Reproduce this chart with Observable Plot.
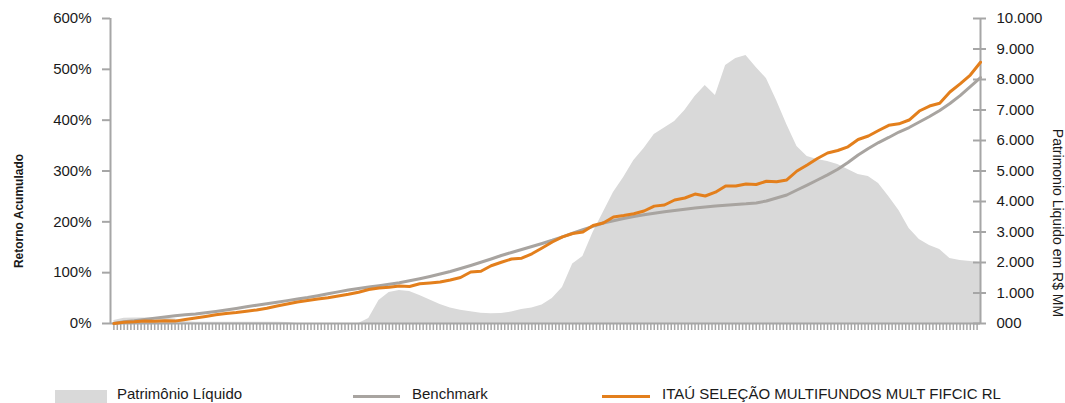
<!DOCTYPE html>
<html>
<head>
<meta charset="utf-8">
<script src="https://cdn.jsdelivr.net/npm/d3@7"></script>
<script src="https://cdn.jsdelivr.net/npm/@observablehq/plot@0.6"></script>
<style>
  body { margin: 0; background: #fff; font-family: "Liberation Sans", Arial, sans-serif; }
  #wrap { position: relative; width: 1065px; height: 403px; overflow: hidden; }
  #chart { position: absolute; left: 0; top: 0; }
  .lg { position: absolute; font-size: 15px; line-height: 15px; color: #1a1a1a; white-space: nowrap; }
  .sw { position: absolute; }
</style>
</head>
<body>
<div id="wrap">
  <div id="chart"></div>
  <div id="legend"></div>
</div>
<script>
// ---- data ----
const N_MONTHS = 256;          // monthly categories on the x axis
const SAMPLE_STEP = 3;         // values below are read every 3 months

const benchmark = [
  0, 3.5, 5.3, 7.9, 10.6, 13.0, 15.1, 17.1, 18.7, 21.0,
  23.6, 26.6, 29.5, 32.8, 36.0, 38.9, 41.9, 45.0, 48.0, 51.1,
  54.7, 58.4, 62.2, 65.9, 68.8, 71.6, 74.4, 77.3, 80.3, 84.0,
  88.1, 92.6, 97.4, 102.3, 108.2, 114.1, 120.4, 126.9, 133.8, 139.7,
  145.6, 151.5, 157.4, 163.7, 170.5, 177.6, 184.5, 191.2, 197.7, 202.2,
  206.5, 210.5, 213.8, 217.0, 219.7, 222.3, 224.6, 227.0, 229.2, 231.1,
  232.7, 234.1, 235.4, 237.2, 241.0, 246.9, 252.8, 262.6, 272.4, 282.3,
  292.5, 303.5, 316.7, 331.4, 344.2, 356.0, 366.0, 376.7, 385.5, 396.4,
  407.2, 419.0, 432.8, 448.4, 466.1, 483.9
];

const fund = [
  0, 2.4, 3.3, 4.9, 4.3, 5.5, 4.7, 7.9, 10.8, 13.8,
  17.1, 19.7, 21.6, 24.2, 26.6, 29.9, 34.4, 38.4, 42.3, 45.2,
  48.2, 50.6, 54.1, 57.4, 61.4, 66.9, 69.8, 71.2, 73.8, 72.8,
  78.1, 79.7, 81.6, 85.6, 90.5, 101.3, 102.7, 113.7, 120.4, 126.9,
  128.4, 137.1, 148.5, 160.3, 170.5, 177.0, 180.0, 192.8, 197.7, 209.5,
  212.4, 215.8, 221.3, 230.9, 233.1, 242.9, 246.9, 254.7, 250.8, 258.3,
  270.5, 270.5, 274.4, 273.4, 279.9, 278.7, 282.3, 300.0, 311.8, 324.6,
  335.4, 340.3, 347.6, 361.9, 368.8, 379.6, 389.9, 392.8, 400.3, 418.0,
  427.8, 433.3, 455.4, 471.5, 488.8, 514.0
];

const patrimonio = [
  100, 170, 180, 180, 180, 175, 150, 60, 40, 40,
  40, 40, 40, 40, 40, 40, 40, 30, 0, 0,
  0, 0, 0, 0, 0, 165, 754, 1016, 1082, 1049,
  918, 770, 623, 508, 436, 384, 338, 318, 328, 377,
  459, 508, 607, 820, 1180, 1951, 2197, 2984, 3639, 4295,
  4787, 5344, 5738, 6197, 6410, 6623, 6984, 7443, 7803, 7475,
  8459, 8689, 8787, 8393, 8033, 7311, 6525, 5803, 5475, 5377,
  5311, 5213, 5049, 4885, 4820, 4590, 4164, 3705, 3115, 2754,
  2557, 2426, 2131, 2066, 2033, 2000
];

const leftTicks = [0, 100, 200, 300, 400, 500, 600];
const rightTicks = [0, 1000, 2000, 3000, 4000, 5000, 6000, 7000, 8000, 9000, 10000];
const rightTickLabels = ["000", "1.000", "2.000", "3.000", "4.000", "5.000", "6.000", "7.000", "8.000", "9.000", "10.000"];

const leftTitle = "Retorno Acumulado";
const rightTitle = "Patrimonio Liquido em R$ MM";
const seriesNames = ["Patrimônio Líquido", "Benchmark", "ITAÚ SELEÇÃO MULTIFUNDOS MULT FIFCIC RL"];

// ---- styles ----
const C_AREA = "#d9d9d9";
const C_BENCH = "#a8a4a0";
const C_FUND = "#e37f1c";
const C_AXIS = "#a6a6a6";
const C_TEXT = "#1a1a1a";

// ---- build table ----
const Y_MAX = 600, PL_MAX = 10000;
const toY = v => v * Y_MAX / PL_MAX;   // map right-axis values onto left scale
const months = d3.range(0, N_MONTHS, SAMPLE_STEP);
const rows = months.map((m, i) => ({m, bench: benchmark[i], fund: fund[i], pl: toY(patrimonio[i])}));
const xDomain = [-1, N_MONTHS - 1];
const rightLabelByY = new Map(rightTicks.map((v, i) => [toY(v), rightTickLabels[i]]));

const chart = Plot.plot({
  width: 1065,
  height: 385,
  marginLeft: 110,
  marginRight: 85,
  marginTop: 18,
  marginBottom: 62,
  x: {domain: xDomain},
  y: {domain: [0, Y_MAX]},
  style: {fontFamily: "'Liberation Sans', Arial, sans-serif", fontSize: "15px", color: C_TEXT, background: "#fff", overflow: "visible"},
  marks: [
    Plot.areaY(rows, {x: "m", y: "pl", fill: C_AREA}),
    Plot.axisX(d3.range(0, N_MONTHS - 1), {anchor: "bottom", tickSize: 7, stroke: C_AXIS, strokeWidth: 1.5, fill: "none", label: null}),
    Plot.axisY(leftTicks, {anchor: "left", tickSize: 8, tickPadding: 11, stroke: C_AXIS, strokeWidth: 2, fill: C_TEXT,
      tickFormat: d => `${d}%`, label: null}),
    Plot.axisY(rightTicks.map(toY), {anchor: "right", tickSize: 13, dx: -8, tickPadding: 11, stroke: C_AXIS, strokeWidth: 2, fill: C_TEXT,
      tickFormat: d => rightLabelByY.get(d), textAnchor: "start", label: null}),
    Plot.ruleX(xDomain, {stroke: C_AXIS, strokeWidth: 2}),
    Plot.ruleY([0], {stroke: C_AXIS, strokeWidth: 2}),
    Plot.lineY(rows, {x: "m", y: "bench", stroke: C_BENCH, strokeWidth: 3}),
    Plot.lineY(rows, {x: "m", y: "fund", stroke: C_FUND, strokeWidth: 3}),
    Plot.text([leftTitle], {text: d => d, frameAnchor: "left", textAnchor: "middle", dx: -91, dy: 40, rotate: -90, fontWeight: "bold", fontSize: 12, fill: C_TEXT}),
    Plot.text([rightTitle], {text: d => d, frameAnchor: "right", textAnchor: "middle", dx: 77, dy: 52, rotate: 90, fontSize: 14, fill: C_TEXT})
  ]
});
document.getElementById("chart").appendChild(chart);

// ---- legend (HTML below the SVG) ----
const legend = document.getElementById("legend");
const lgItems = [
  {name: seriesNames[0], kind: "rect", color: C_AREA, sx: 55, sw: 52, tx: 117},
  {name: seriesNames[1], kind: "line", color: C_BENCH, sx: 353, sw: 47, tx: 412},
  {name: seriesNames[2], kind: "line", color: C_FUND, sx: 602, sw: 48, tx: 662}
];
for (const it of lgItems) {
  const s = document.createElement("div");
  s.className = "sw";
  s.style.left = it.sx + "px";
  s.style.width = it.sw + "px";
  s.style.background = it.color;
  if (it.kind === "rect") { s.style.top = "390px"; s.style.height = "13px"; }
  else { s.style.top = "395px"; s.style.height = "3px"; }
  legend.appendChild(s);
  const t = document.createElement("div");
  t.className = "lg";
  t.style.left = it.tx + "px";
  t.style.top = "386px";
  t.textContent = it.name;
  legend.appendChild(t);
}
</script>
</body>
</html>
